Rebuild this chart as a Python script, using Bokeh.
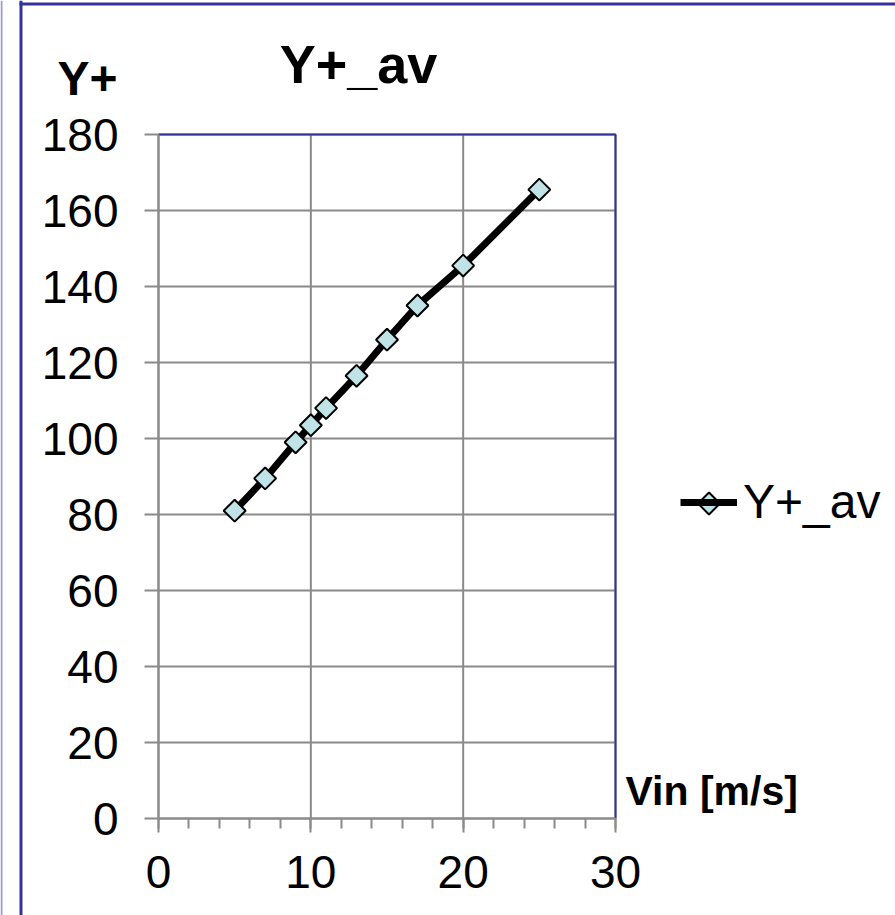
import numpy as np
from bokeh.plotting import figure
from bokeh.models import (FixedTicker, Range1d, Label, Legend, LegendItem,
                          BoxAnnotation, ColumnDataSource, LinearAxis)
from bokeh.embed import file_html
from bokeh.resources import INLINE

# ---- data ----
vin = [5, 7, 9, 10, 11, 13, 15, 17, 20, 25]
yplus_av = [81, 89.5, 99, 103.5, 108, 116.5, 126, 135, 145.5, 165.5]
x_ticks = [0, 10, 20, 30]
x_minor = list(range(0, 31, 2))
y_ticks = [0, 20, 40, 60, 80, 100, 120, 140, 160, 180]
series_name = "Y+_av"
title_text = "Y+_av"
y_title = "Y+"
x_title = "Vin [m/s]"

FONT = "Liberation Sans"
GRID = "#8a8a8a"
BLUE = "#333399"
MFILL = "#bfe3e6"

W, H = 895, 915
# plot area in canvas pixels
PL, PR, PT, PB = 158, 615, 134, 818
XMIN, XMAX = x_ticks[0], x_ticks[-1]
YMIN, YMAX = y_ticks[0], y_ticks[-1]
XS = (PR - PL) / (XMAX - XMIN)
YS = (PB - PT) / (YMAX - YMIN)

def px2x(px):
    return XMIN + (px - PL) / XS

def py2y(py):
    return YMIN + (PB - py) / YS

p = figure(width=W, height=H, output_backend="svg", toolbar_location=None,
           x_range=Range1d(px2x(0), px2x(W)), y_range=Range1d(py2y(H), py2y(0)),
           min_border=0, min_border_left=0, min_border_right=0,
           min_border_top=0, min_border_bottom=0, title=None,
           x_axis_location=None, y_axis_location=None)
p.background_fill_color = "white"
p.border_fill_color = "white"
p.outline_line_color = None
p.grid.visible = False

# grid lines (limited to the plot area)
p.segment(x0=x_ticks, y0=[YMIN] * len(x_ticks), x1=x_ticks, y1=[YMAX] * len(x_ticks),
          line_color=GRID, line_width=2)
p.segment(x0=[XMIN] * len(y_ticks), y0=y_ticks, x1=[XMAX] * len(y_ticks), y1=y_ticks,
          line_color=GRID, line_width=2)
# plot-area border (top & right)
p.line([XMIN, XMAX, XMAX], [YMAX, YMAX, YMIN], line_color=BLUE, line_width=2)

# data
src = ColumnDataSource(dict(x=vin, y=yplus_av))
line_r = p.line("x", "y", source=src, line_color="black", line_width=7)
mark_r = p.scatter("x", "y", source=src, marker="square", size=15.5, angle=np.pi / 4,
                   fill_color=MFILL, line_color="black", line_width=2)

# axes fixed at the data origin
xaxis = LinearAxis(fixed_location=YMIN, bounds=(XMIN, XMAX),
                   ticker=FixedTicker(ticks=x_ticks, minor_ticks=x_minor))
yaxis = LinearAxis(fixed_location=XMIN, bounds=(YMIN, YMAX),
                   ticker=FixedTicker(ticks=y_ticks, minor_ticks=[]))
for ax in (xaxis, yaxis):
    ax.axis_line_color = GRID
    ax.axis_line_width = 2
    ax.major_tick_line_color = GRID
    ax.major_tick_line_width = 2
    ax.minor_tick_line_color = GRID
    ax.minor_tick_line_width = 2
    ax.major_tick_in = 0
    ax.minor_tick_in = 0
    ax.major_label_text_font = FONT
    ax.major_label_text_font_size = "46px"
    ax.major_label_text_color = "black"
xaxis.major_tick_out = 14
xaxis.minor_tick_out = 10
xaxis.major_label_standoff = 23
yaxis.major_tick_out = 14
yaxis.minor_tick_out = 0
yaxis.major_label_standoff = 26
p.add_layout(xaxis, "below")
p.add_layout(yaxis, "left")

# texts
def lab(x, y, text, size, style, align):
    return Label(x=x, y=y, x_units="canvas", y_units="canvas", text=text,
                 text_font=FONT, text_font_size=size, text_font_style=style,
                 text_color="black", text_align=align, text_baseline="alphabetic")

p.add_layout(lab(358, 63, title_text, "54px", "bold", "center"))
p.add_layout(lab(87, 78, y_title, "48px", "bold", "center"))
p.add_layout(lab(625, 790, x_title, "41px", "bold", "left"))

# outer frame lines
def frame_box(l, r, t, b, color):
    return BoxAnnotation(left=l, right=r, top=t, bottom=b, left_units="canvas",
                         right_units="canvas", top_units="canvas", bottom_units="canvas",
                         fill_color=color, fill_alpha=1, line_alpha=0)

p.add_layout(frame_box(19, 22, 0, H, BLUE))
p.add_layout(frame_box(19, W, 2, 5, BLUE))
p.add_layout(frame_box(0, 2, 0, H, "#9a9acc"))

# legend (line + label) with a diamond key drawn on top
LEG_X, LEG_Y, LEG_GW = 680, 503, 57
legend = Legend(items=[LegendItem(label=series_name, renderers=[line_r])],
                location=(LEG_X, H - LEG_Y - 26), padding=0, margin=0,
                glyph_width=LEG_GW, glyph_height=40, label_height=40,
                label_standoff=6, label_text_font=FONT, label_text_font_size="48px",
                label_text_color="black", border_line_alpha=0, background_fill_alpha=0)
p.add_layout(legend)
p.scatter([px2x(LEG_X + LEG_GW / 2)], [py2y(LEG_Y)], marker="square", size=15.5,
          angle=np.pi / 4, fill_color=MFILL, line_color="black", line_width=2,
          level="overlay")

open("out.html", "w").write(file_html(p, INLINE))
